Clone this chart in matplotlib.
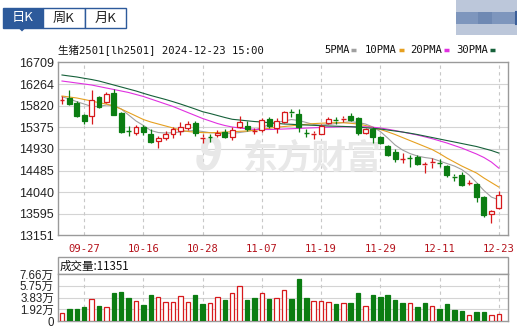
import numpy as np
import matplotlib
matplotlib.use("Agg")
import matplotlib.pyplot as plt
from matplotlib.patches import Rectangle, Polygon

plt.rcParams['font.family'] = ['Liberation Sans', 'Noto Sans CJK SC']

# ---- data ----
dates = ['09-24', '09-25', '09-26', '09-27', '09-30', '10-08', '10-09', '10-10', '10-11', '10-14',
         '10-15', '10-16', '10-17', '10-18', '10-21', '10-22', '10-23', '10-24', '10-25', '10-28',
         '10-29', '10-30', '10-31', '11-01', '11-04', '11-05', '11-06', '11-07', '11-08', '11-11',
         '11-12', '11-13', '11-14', '11-15', '11-18', '11-19', '11-20', '11-21', '11-22', '11-25',
         '11-26', '11-27', '11-28', '11-29', '12-02', '12-03', '12-04', '12-05', '12-06', '12-09',
         '12-10', '12-11', '12-12', '12-13', '12-16', '12-17', '12-18', '12-19', '12-20', '12-23']
tick_dates = ['09-27', '10-16', '10-28', '11-07', '11-19', '11-29', '12-11', '12-23']

opens = [15930, 15977, 15874, 15627, 15606, 15997, 15894, 16073, 15674, 15298,
         15250, 15374, 15236, 15096, 15154, 15236, 15298, 15360, 15462, 15148,
         15183, 15216, 15283, 15184, 15386, 15401, 15288, 15312, 15539, 15366,
         15489, 15683, 15648, 15257, 15236, 15242, 15456, 15524, 15545, 15607,
         15559, 15263, 15333, 15169, 14990, 14872, 14712, 14753, 14769, 14608,
         14645, 14650, 14588, 14366, 14403, 14222, 14202, 13946, 13595, 13708]
highs = [16018, 16141, 15915, 15648, 16141, 16018, 16090, 16162, 15689, 15411,
         15421, 15421, 15339, 15195, 15298, 15390, 15483, 15514, 15494, 15236,
         15236, 15318, 15333, 15380, 15606, 15504, 15370, 15559, 15576, 15559,
         15709, 15751, 15744, 15329, 15308, 15442, 15580, 15592, 15613, 15668,
         15592, 15353, 15386, 15205, 15010, 14921, 14839, 14804, 14814, 14666,
         14736, 14716, 14609, 14424, 14455, 14290, 14238, 13961, 13673, 14064]
lows = [15853, 15833, 15586, 15442, 15432, 15771, 15874, 15620, 15250, 15195,
        15216, 15216, 15045, 14954, 15113, 15160, 15216, 15318, 15205, 15061,
        15072, 15175, 15148, 15113, 15370, 15308, 15236, 15283, 15370, 15250,
        15457, 15596, 15283, 15169, 15127, 15236, 15432, 15442, 15483, 15504,
        15216, 15246, 15051, 15030, 14783, 14660, 14650, 14557, 14598, 14433,
        14547, 14563, 14352, 14280, 14167, 14187, 13844, 13529, 13406, 13687]
closes = [15940, 15853, 15606, 15503, 15936, 15802, 16069, 15627, 15283, 15288,
          15380, 15277, 15082, 15160, 15236, 15329, 15386, 15442, 15257, 15165,
          15170, 15267, 15180, 15318, 15473, 15329, 15308, 15524, 15407, 15504,
          15695, 15677, 15380, 15247, 15257, 15401, 15545, 15514, 15559, 15524,
          15250, 15339, 15165, 15061, 14814, 14716, 14728, 14743, 14613, 14629,
          14666, 14639, 14403, 14352, 14197, 14238, 13946, 13580, 13647, 13981]

ma5 = [16003, 15956, 15901, 15853, 15802, 15802, 15833, 15822, 15750, 15627,
       15504, 15411, 15308, 15267, 15257, 15263, 15277, 15298, 15308, 15288,
       15263, 15257, 15251, 15251, 15267, 15288, 15318, 15370, 15432, 15473,
       15504, 15534, 15514, 15473, 15432, 15421, 15432, 15452, 15473, 15489,
       15473, 15442, 15380, 15288, 15154, 15010, 14907, 14835, 14784, 14753,
       14732, 14681, 14629, 14578, 14506, 14393, 14238, 14074, 13940, 13883]
ma10 = [16018, 15997, 15977, 15946, 15915, 15880, 15853, 15812, 15750, 15678,
        15606, 15534, 15483, 15442, 15401, 15360, 15318, 15288, 15273, 15265,
        15263, 15267, 15277, 15283, 15292, 15298, 15312, 15333, 15355, 15376,
        15390, 15405, 15421, 15436, 15450, 15458, 15465, 15469, 15467, 15456,
        15442, 15411, 15370, 15329, 15281, 15226, 15164, 15102, 15041, 14979,
        14917, 14835, 14742, 14660, 14578, 14506, 14434, 14331, 14238, 14146]
ma20 = [16326, 16306, 16285, 16265, 16244, 16213, 16182, 16152, 16121, 16090,
        16049, 16008, 15956, 15905, 15853, 15802, 15740, 15678, 15617, 15555,
        15504, 15452, 15411, 15380, 15360, 15343, 15333, 15329, 15329, 15333,
        15339, 15345, 15351, 15358, 15364, 15370, 15376, 15380, 15384, 15386,
        15386, 15384, 15376, 15360, 15335, 15308, 15277, 15246, 15216, 15179,
        15140, 15096, 15051, 14999, 14948, 14886, 14825, 14753, 14660, 14536]
ma30 = [16450, 16429, 16409, 16382, 16357, 16326, 16285, 16244, 16203, 16162,
        16121, 16073, 16028, 15987, 15946, 15901, 15853, 15802, 15750, 15695,
        15658, 15617, 15576, 15539, 15524, 15508, 15493, 15483, 15469, 15456,
        15442, 15436, 15427, 15421, 15415, 15407, 15401, 15397, 15392, 15386,
        15376, 15366, 15353, 15339, 15318, 15298, 15277, 15253, 15226, 15195,
        15164, 15133, 15102, 15072, 15041, 15010, 14979, 14938, 14897, 14845]

volumes = [12550, 19560, 19560, 22330, 35370, 24450, 23310, 45150, 46780, 37000,
           33090, 25590, 42380, 39610, 31460, 30480, 41240, 31460, 42380, 27200,
           28850, 39600, 34230, 45150, 57050, 34230, 37000, 45150, 35860, 37000,
           50530, 35860, 68460, 37000, 32600, 32600, 30480, 27710, 28850, 28850,
           46130, 24450, 42380, 39610, 42380, 34230, 29830, 29830, 23310, 29830,
           24450, 19560, 27710, 17930, 16300, 9780, 15160, 15160, 9780, 11351]
vol_up = [1, 0, 0, 0, 1, 0, 1, 0, 0, 0,
          1, 0, 0, 1, 1, 1, 1, 1, 0, 0,
          1, 1, 0, 1, 1, 0, 0, 1, 0, 1,
          1, 0, 0, 0, 1, 1, 1, 0, 1, 0,
          0, 1, 0, 0, 0, 0, 0, 1, 0, 0,
          1, 0, 0, 0, 0, 1, 0, 0, 1, 1]

price_ticks = [13151, 13595, 14040, 14485, 14930, 15375, 15820, 16264, 16709]
vol_ticks = [0, 19150, 38300, 57450, 76600]
vol_labels = ['0', '1.92万', '3.83万', '5.75万', '7.66万']
ma_names = ['5PMA', '10PMA', '20PMA', '30PMA']

RED = '#d7191c'
GREEN = '#0b7d12'
ma_colors = ['#a0a0a0', '#e6a020', '#e030e0', '#16613a']
GRID = '#d4d4d4'
BORDER = '#9a9a9a'
BLUE = '#2d5a9b'

W, H = 517, 327
fig = plt.figure(figsize=(W / 100, H / 100), dpi=100)


def px_axes(x0, y0, x1, y1):
    return fig.add_axes([x0 / W, 1 - y1 / H, (x1 - x0) / W, (y1 - y0) / H])


# overlay in pixel coords for the decorations
bg = fig.add_axes([0, 0, 1, 1])
bg.set_xlim(0, W)
bg.set_ylim(H, 0)
bg.axis('off')

bg.add_patch(Rectangle((3, 8), 40, 20, facecolor=BLUE, edgecolor=BLUE, lw=1))
bg.add_patch(Rectangle((43, 8), 42, 20, facecolor='white', edgecolor=BLUE, lw=1))
bg.add_patch(Rectangle((85, 8), 41, 20, facecolor='white', edgecolor=BLUE, lw=1))
bg.add_patch(Polygon([(18.5, 28), (25.5, 28), (22, 31.5)], closed=True, facecolor=BLUE, edgecolor='none'))
for txt, xc, col in [('日K', 23, 'white'), ('周K', 64, '#222222'), ('月K', 105.5, '#222222')]:
    bg.text(xc, 18, txt, ha='center', va='center', fontsize=9.5, color=col,
            family=['Noto Sans CJK SC', 'DejaVu Sans'])

# blurred thing top right
bg.add_patch(Rectangle((456, 0), 61, 12, facecolor='#bcc7da', edgecolor='none'))
bg.add_patch(Rectangle((456, 12), 61, 12, facecolor='#7e96bd', edgecolor='none'))
bg.add_patch(Rectangle((456, 24), 61, 11, facecolor='#bcc7da', edgecolor='none'))
bg.add_patch(Rectangle((478, 12), 14, 12, facecolor='#6f89b3', edgecolor='none'))
bg.plot([516, 516], [12, 24], color='#3b5f99', lw=1.5)

mono = ['DejaVu Sans Mono', 'Noto Sans CJK SC']
bg.text(58, 50, '生猪2501[lh2501] 2024-12-23 15:00', ha='left', va='center', fontsize=7.6,
        color='#111111', family=mono)

leg_x = [324, 365, 410, 456]
for name, x, c in zip(ma_names, leg_x, ma_colors):
    t = bg.text(x, 50, name, ha='left', va='center', fontsize=7.6, color='#111111', family=mono)
    sx = x + len(name) * 6.1 + 3
    bg.plot([sx, sx + 5], [50, 50], color=c, lw=2.5, solid_capstyle='butt')

# volume header box
bg.add_patch(Rectangle((58, 257), 450, 17, facecolor='white', edgecolor=BORDER, lw=1))
bg.text(60, 266, '成交量:11351', ha='left', va='center', fontsize=8.3, color='#111111',
        family=['Noto Sans CJK SC', 'Liberation Sans'])

# ---- main price panel ----
x = np.arange(len(dates))
tick_pos = [dates.index(d) for d in tick_dates]

ax = px_axes(58, 62.4, 508, 235.4)
ax.set_xlim(-0.54, 60.25)
ax.set_ylim(price_ticks[0], price_ticks[-1])
for v in price_ticks[1:-1]:
    ax.axhline(v, color=GRID, lw=0.8, zorder=0)
for p in tick_pos:
    ax.axvline(p, color='#c8c8c8', lw=0.8, ls=(0, (3, 3)), zorder=0)

ax.text(0.565, 0.45, '东方财富', transform=ax.transAxes, ha='center', va='center',
        fontsize=25, fontweight='bold', color='#e8e8e8', zorder=0.5,
        family=['Noto Sans CJK SC'])
ax.text(0.335, 0.45, 'ϑ', transform=ax.transAxes, ha='center', va='center',
        fontsize=30, fontweight='bold', fontstyle='italic', color='#e8e8e8', zorder=0.5,
        family=['DejaVu Sans'])

for c, name, col in zip([ma5, ma10, ma20, ma30], ma_names, ma_colors):
    ax.plot(x, c, color=col, lw=0.8, zorder=2)

bw = 0.66
for i in range(len(dates)):
    o, h, l, c = opens[i], highs[i], lows[i], closes[i]
    up = c >= o
    col = RED if up else GREEN
    top, bot = max(o, c), min(o, c)
    ax.vlines(i, top, h, color=col, lw=0.9, zorder=3)
    ax.vlines(i, l, bot, color=col, lw=0.9, zorder=3)
    if top - bot < 25:
        ax.hlines((o + c) / 2, i - bw / 2, i + bw / 2, color=col, lw=1.0, zorder=4)
    else:
        ax.add_patch(Rectangle((i - bw / 2, bot), bw, top - bot, facecolor='white' if up else col,
                               edgecolor=col, lw=0.9, zorder=4))

ax.set_yticks(price_ticks)
ax.set_yticklabels([str(v) for v in price_ticks])
ax.set_xticks(tick_pos)
ax.set_xticklabels(tick_dates, family=['DejaVu Sans Mono'], fontsize=7.6, color='#b5121b')
ax.tick_params(axis='y', length=0, pad=3, labelsize=9, labelcolor='#222222')
ax.tick_params(axis='x', length=0, pad=6)
for s in ax.spines.values():
    s.set_color(BORDER)
    s.set_linewidth(1)

# ---- volume panel ----
vax = px_axes(58, 274, 508, 321)
vax.set_xlim(-0.54, 60.25)
vax.set_ylim(0, vol_ticks[-1])
for v in vol_ticks[1:-1]:
    vax.axhline(v, color=GRID, lw=0.8, zorder=0)
for p in tick_pos:
    vax.axvline(p, color='#c8c8c8', lw=0.8, ls=(0, (3, 3)), zorder=0)
for i in range(len(dates)):
    col = RED if vol_up[i] else GREEN
    vax.add_patch(Rectangle((i - 0.3, 0), 0.6, volumes[i], facecolor='white' if vol_up[i] else col,
                            edgecolor=col, lw=0.9, zorder=3))
vax.set_xticks([])
vax.set_yticks(vol_ticks)
vax.set_yticklabels(vol_labels)
vax.tick_params(axis='y', length=0, pad=3, labelsize=8.3, labelcolor='#222222')
for s in vax.spines.values():
    s.set_color(BORDER)
    s.set_linewidth(1)

fig.savefig('out.png', dpi=100)
